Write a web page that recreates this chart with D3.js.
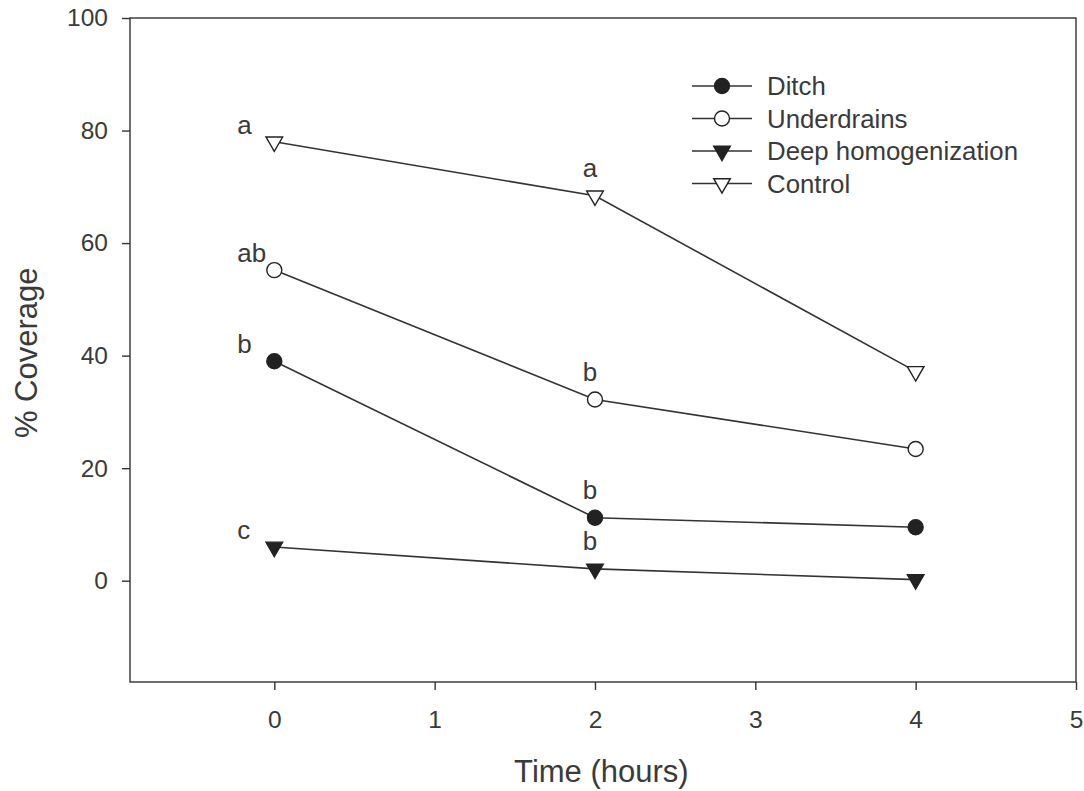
<!DOCTYPE html>
<html>
<head>
<meta charset="utf-8">
<script src="https://cdn.jsdelivr.net/npm/d3@7/dist/d3.min.js"></script>
<style>
  body { margin: 0; background: #fff; }
  svg text { font-family: "Liberation Sans", Arial, sans-serif; fill: #3a3a3a; }
</style>
</head>
<body>
<div id="chart"></div>
<script>
const times = [0, 2, 4];
const seriesNames = ["Ditch", "Underdrains", "Deep homogenization", "Control"];
const ditch = [39, 11.2, 9.5];
const underdrains = [55.2, 32.2, 23.4];
const deepHomogenization = [6, 2.1, 0.2];
const control = [78, 68.4, 37.2];
const ditchLetters = ["b", "b", ""];
const underdrainsLetters = ["ab", "b", ""];
const deepLetters = ["c", "b", ""];
const controlLetters = ["a", "a", ""];
const xTicks = [0, 1, 2, 3, 4, 5];
const yTicks = [0, 20, 40, 60, 80, 100];

const width = 1084, height = 791;
const plotLeft = 130, plotRight = 1076, plotTop = 18, plotBottom = 682;
const ink = "#333";

const series = [
  { name: seriesNames[0], values: ditch, letters: ditchLetters, shape: "circle", filled: true },
  { name: seriesNames[1], values: underdrains, letters: underdrainsLetters, shape: "circle", filled: false },
  { name: seriesNames[2], values: deepHomogenization, letters: deepLetters, shape: "tri", filled: true },
  { name: seriesNames[3], values: control, letters: controlLetters, shape: "tri", filled: false }
];

const x = d3.scaleLinear().domain([-0.9, 5]).range([plotLeft, plotRight]);
const y = d3.scaleLinear().domain([-18, 100]).range([plotBottom, plotTop]);

const svg = d3.select("#chart").append("svg")
  .attr("width", width)
  .attr("height", height);

// frame
svg.append("rect")
  .attr("x", plotLeft).attr("y", plotTop)
  .attr("width", plotRight - plotLeft).attr("height", plotBottom - plotTop)
  .attr("fill", "none").attr("stroke", ink).attr("stroke-width", 1.4);

const xAxis = svg.append("g")
  .attr("transform", `translate(0,${plotBottom})`)
  .call(d3.axisBottom(x).tickValues(xTicks).tickFormat(d3.format("d")).tickSize(8).tickPadding(21));
const yAxis = svg.append("g")
  .attr("transform", `translate(${plotLeft},0)`)
  .call(d3.axisLeft(y).tickValues(yTicks).tickFormat(d3.format("d")).tickSize(8).tickPadding(14));

[xAxis, yAxis].forEach(g => {
  g.select(".domain").remove();
  g.selectAll(".tick line").attr("stroke", ink).attr("stroke-width", 1.4);
  g.selectAll(".tick text").attr("font-size", 24.5).attr("fill", "#3a3a3a");
});

svg.append("text")
  .attr("x", x(2.04)).attr("y", 782)
  .attr("text-anchor", "middle")
  .attr("font-size", 31)
  .text("Time (hours)");

svg.append("text")
  .attr("transform", `translate(37,${y(40.5)}) rotate(-90)`)
  .attr("text-anchor", "middle")
  .attr("font-size", 31)
  .text("% Coverage");

const line = d3.line().x((d, i) => x(times[i])).y(d => y(d));
const tri = d3.symbol().type(d3.symbolTriangle).size(120);

function drawMarker(g, s) {
  if (s.shape === "circle") {
    g.append("circle").attr("r", 7.5);
  } else {
    g.append("path").attr("d", tri()).attr("transform", "rotate(180)");
  }
  g.selectAll("circle, path")
    .attr("fill", s.filled ? "#222" : "#fff")
    .attr("stroke", "#222")
    .attr("stroke-width", 1.4);
}

series.forEach(s => {
  svg.append("path")
    .datum(s.values)
    .attr("d", line)
    .attr("fill", "none")
    .attr("stroke", ink)
    .attr("stroke-width", 1.6);

  s.values.forEach((v, i) => {
    const g = svg.append("g").attr("transform", `translate(${x(times[i])},${y(v)})`);
    drawMarker(g, s);
  });

  s.letters.forEach((l, i) => {
    if (!l) return;
    const px = x(times[i]), py = y(s.values[i]);
    svg.append("text")
      .attr("x", i === 0 ? px - 37 : px - 5)
      .attr("y", i === 0 ? py - 8 : py - 19)
      .attr("text-anchor", i === 0 ? "start" : "middle")
      .attr("font-size", 26)
      .text(l);
  });
});

// legend
const legend = svg.append("g").attr("transform", "translate(692,86)");
series.forEach((s, i) => {
  const row = legend.append("g").attr("transform", `translate(0,${i * 32.5})`);
  row.append("line")
    .attr("x1", 0).attr("x2", 60)
    .attr("stroke", ink).attr("stroke-width", 1.6);
  const m = row.append("g").attr("transform", "translate(30,0)");
  drawMarker(m, s);
  row.append("text")
    .attr("x", 75).attr("y", 0)
    .attr("dy", "0.36em")
    .attr("font-size", 25.8)
    .text(s.name);
});
</script>
</body>
</html>
